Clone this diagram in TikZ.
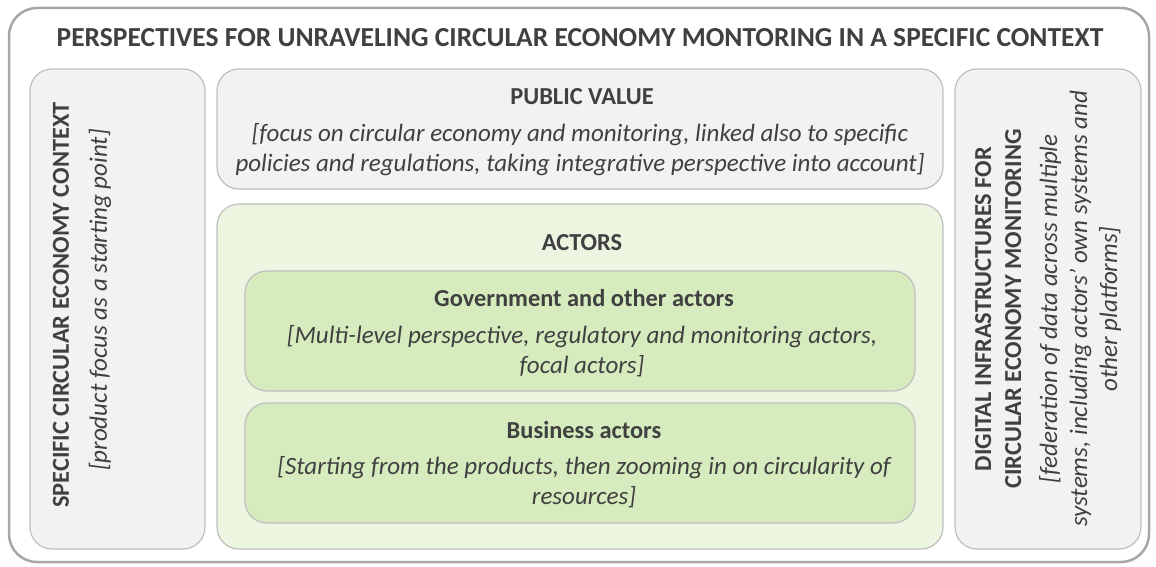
\documentclass[tikz,border=0pt]{standalone}
\usepackage{fontspec}
\setmainfont{Carlito}
\usetikzlibrary{positioning}
\definecolor{boxgrey}{HTML}{F2F2F2}
\definecolor{edgegrey}{HTML}{BFBFBF}
\definecolor{framegrey}{HTML}{A6A6A6}
\definecolor{actgreen}{HTML}{EBF5E0}
\definecolor{subgreen}{HTML}{D6EBBE}
\definecolor{txtgrey}{HTML}{404040}

\begin{document}
\begin{tikzpicture}[x=1pt, y=-1pt, text=txtgrey, font=\fontsize{25}{30}\selectfont]
\tikzstyle{panel}=[draw=edgegrey, line width=1.2pt, rounded corners=22pt, inner sep=0pt]
\tikzstyle{head}=[font=\fontsize{24.4}{28}\selectfont\bfseries]
\tikzstyle{note}=[font=\fontsize{25}{30}\selectfont\itshape, align=center]
\useasboundingbox (0,0) rectangle (1156,567);
% outer frame
\node[draw=framegrey, line width=2.5pt, rounded corners=28pt, minimum width=1140pt, minimum height=554pt] (frame) at (579,285) {};
\node[font=\fontsize{27.5}{30}\selectfont\bfseries] (title) at (580,38) {PERSPECTIVES FOR UNRAVELING CIRCULAR ECONOMY MONTORING IN A SPECIFIC CONTEXT};
% boxes
\node[panel, fill=boxgrey, minimum width=175pt, minimum height=480pt] (ctx) at (117.5,309) {};
\node[panel, fill=boxgrey, minimum width=726pt, minimum height=120pt] (pv) at (580,129) {};
\node[panel, fill=actgreen, minimum width=726pt, minimum height=345pt] (act) at (580,376.5) {};
\node[panel, fill=subgreen, minimum width=670pt, minimum height=120pt] (gov) at (580,331) {};
\node[panel, fill=subgreen, minimum width=670pt, minimum height=120pt] (bus) at (580,463) {};
\node[panel, fill=boxgrey, minimum width=186pt, minimum height=480pt] (dig) at (1048,309) {};
% texts
\node[head, rotate=90] (ctxhead) at (61,305) {SPECIFIC CIRCULAR ECONOMY CONTEXT};
\node[note, rotate=90] (ctxnote) at (100,300) {[product focus as a starting point]};
\node[head] (pvhead) at (582,97) {PUBLIC VALUE};
\node[note] (pvnote) at (580,150) {[focus on circular economy and monitoring, linked also to specific\\policies and regulations, taking integrative perspective into account]};
\node[head] (acthead) at (582,243) {ACTORS};
\node[head] (govhead) at (584,298) {Government and other actors};
\node[note] (govnote) at (582,351) {[Multi-level perspective, regulatory and monitoring actors,\\focal actors]};
\node[head] (bushead) at (584,430) {Business actors};
\node[note] (busnote) at (584,482.5) {[Starting from the products, then zooming in on circularity of\\resources]};
\node[rotate=90, align=center] (dignote) at (1048,309) {\textbf{\fontsize{24.4}{28}\selectfont DIGITAL INFRASTRUCTURES FOR}\\\textbf{\fontsize{24.4}{28}\selectfont CIRCULAR ECONOMY MONITORING}\\[6pt]\textit{[federation of data across multiple}\\\textit{systems, including actors' own systems and}\\\textit{other platforms]}};
\end{tikzpicture}
\end{document}
